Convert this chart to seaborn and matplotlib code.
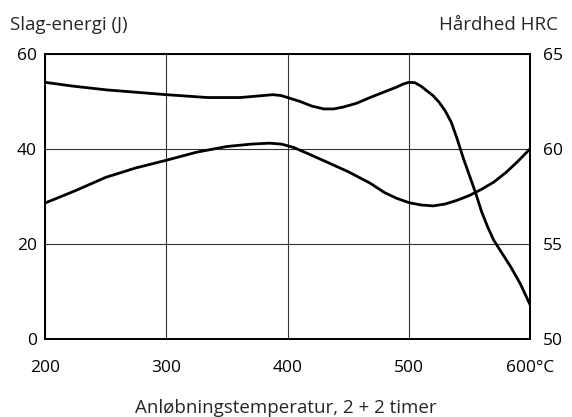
import numpy as np
import pandas as pd
import matplotlib
matplotlib.use("Agg")
import matplotlib.pyplot as plt
import seaborn as sns

sns.set_theme(style="white")
plt.rcParams['font.family'] = ['Open Sans', 'DejaVu Sans']

# Slag-energi (J), venstre akse
energi_temp = [200, 225, 250, 275, 300, 325, 350, 370, 385, 395, 405, 415, 430, 450, 468, 480, 490, 500,
               510, 520, 530, 540, 550, 560, 570, 580, 590, 600]
energi_j = [28.6, 31.2, 34.0, 36.0, 37.6, 39.3, 40.5, 41.0, 41.2, 41.0, 40.3, 39.2, 37.5, 35.2, 32.8, 30.8,
            29.6, 28.7, 28.2, 28.0, 28.4, 29.2, 30.2, 31.5, 33.0, 35.0, 37.4, 40.0]

# Hårdhed HRC, højre akse
haard_temp = [200, 223, 251, 300, 334, 361, 388, 395, 400, 410, 420, 430, 438, 446, 457, 468, 480, 490, 495,
              500, 505, 510, 515, 520, 525, 530, 535, 540, 545, 550, 555, 560, 565, 570, 577, 584, 592, 600]
haard_hrc = [63.5, 63.3, 63.1, 62.85, 62.7, 62.7, 62.85, 62.8, 62.7, 62.5, 62.25, 62.1, 62.1, 62.2, 62.4, 62.7,
             63.0, 63.25, 63.4, 63.5, 63.48, 63.3, 63.05, 62.8, 62.45, 62.0, 61.4, 60.5, 59.5, 58.6, 57.7, 56.7,
             55.9, 55.2, 54.5, 53.8, 52.9, 51.8]

x_ticks = [200, 300, 400, 500, 600]
x_labels = ["200", "300", "400", "500", "600°C"]
y_left_ticks = [0, 20, 40, 60]
y_right_ticks = [50, 55, 60, 65]

fig = plt.figure(figsize=(5.72, 4.17), dpi=100)
ax = fig.add_axes([0.0787, 0.187, 0.848, 0.684])
ax2 = ax.twinx()

df_e = pd.DataFrame({"temp": energi_temp, "val": energi_j})
df_h = pd.DataFrame({"temp": haard_temp, "val": haard_hrc})
sns.lineplot(data=df_e, x="temp", y="val", ax=ax, color="black", lw=2.0, sort=False)
sns.lineplot(data=df_h, x="temp", y="val", ax=ax2, color="black", lw=2.0, sort=False)

ax.set_xlim(200, 600)
ax.set_ylim(0, 60)
ax2.set_ylim(50, 65)
ax.set_xticks(x_ticks)
ax.set_xticklabels(x_labels)
ax.set_yticks(y_left_ticks)
ax2.set_yticks(y_right_ticks)
ax.set_xlabel("")
ax.set_ylabel("")
ax2.set_ylabel("")

ax.grid(True, color="#333333", lw=0.8)
ax2.grid(False)
for a in (ax, ax2):
    for s in a.spines.values():
        s.set_color("black")
        s.set_linewidth(1.3)
    a.tick_params(length=0, labelsize=12.5, colors="black")
ax.tick_params(axis="x", pad=15)
ax.tick_params(axis="y", pad=6)
ax2.tick_params(axis="y", pad=9)

fig.text(0.017, 0.94, "Slag-energi (J)", fontsize=13.5, ha="left", va="center")
fig.text(0.976, 0.94, "Hårdhed HRC", fontsize=13.5, ha="right", va="center")
fig.text(0.5, 0.022, "Anløbningstemperatur, 2 + 2 timer", fontsize=13.5, ha="center", va="center")

fig.savefig("out.png", dpi=100)
